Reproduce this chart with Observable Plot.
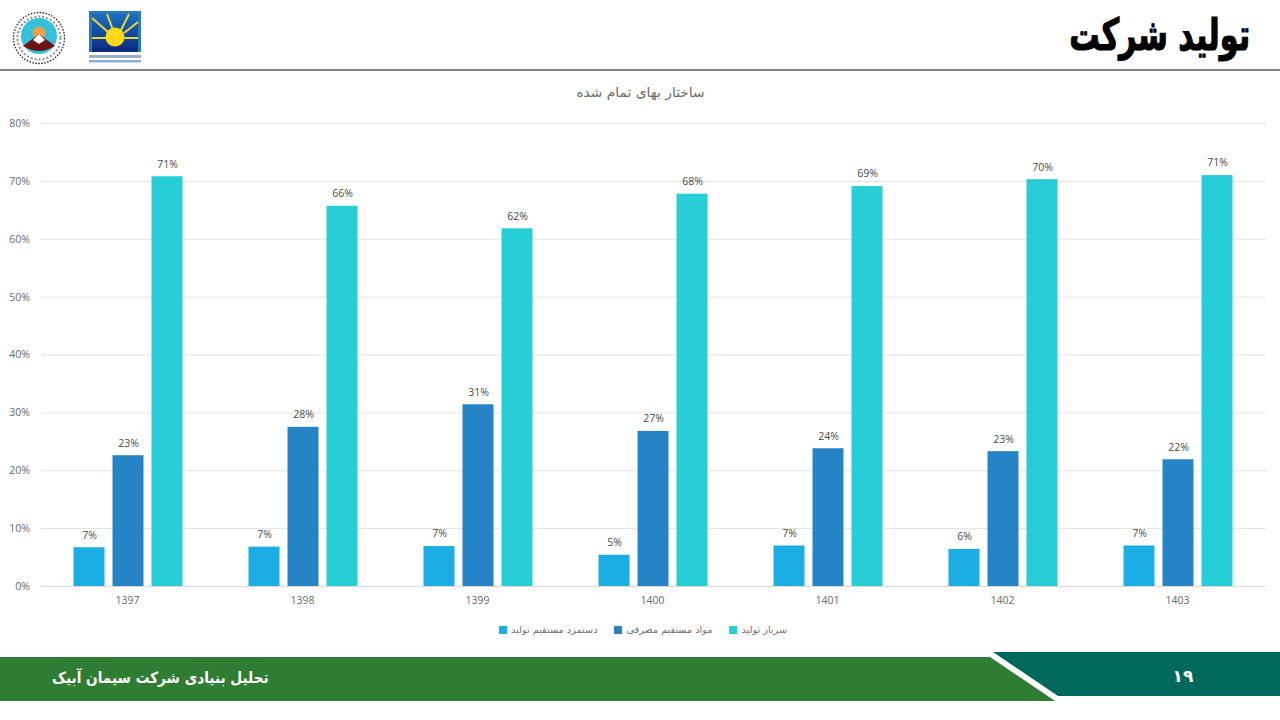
<!DOCTYPE html>
<html lang="fa">
<head>
<meta charset="utf-8">
<script src="https://cdn.jsdelivr.net/npm/d3@7"></script>
<script src="https://cdn.jsdelivr.net/npm/@observablehq/plot@0.6"></script>
<style>
html,body{margin:0;padding:0;background:#fff;width:1280px;height:720px;overflow:hidden;font-family:"DejaVu Sans","Noto Sans",sans-serif}
.abs{position:absolute}
#page{position:relative;width:1280px;height:720px}
#headline{right:30px;top:9px;font:bold 44px "DejaVu Sans";color:#000;direction:rtl;white-space:nowrap;transform:scaleX(.69);transform-origin:right center;-webkit-text-stroke:1.2px #000}
#rule{left:0;top:69px;width:1280px;height:2px;background:#808080}
#chartTitle{left:0;width:1281px;top:84px;text-align:center;font:13.8px "DejaVu Sans";color:#6e6e6e;direction:rtl}
#plot{left:0;top:100px}
#legend{left:0;width:1286px;top:624px;display:flex;justify-content:center;gap:17px;font:9.7px "DejaVu Sans";color:#6e6e6e}
#legend span.item{display:flex;align-items:center;gap:4px}
#legend i{display:block;width:8px;height:8px}
#footLeft{left:52px;top:669px;font:bold 15.5px "DejaVu Sans";color:#fff;direction:rtl;white-space:nowrap;transform:scaleX(.88);transform-origin:left center}
#footNum{left:1160px;width:46px;text-align:center;top:666px;font:bold 17px "DejaVu Sans";color:#fff;letter-spacing:4px}
svg.deco{position:absolute;left:0;top:0;pointer-events:none}
</style>
</head>
<body>
<div id="page">
<svg class="deco" width="1280" height="720" viewBox="0 0 1280 720" aria-hidden="true">
  <defs>
    <linearGradient id="navy" x1="0" y1="0" x2="0" y2="1">
      <stop offset="0" stop-color="#1a6fc0"/><stop offset="1" stop-color="#0c2a80"/>
    </linearGradient>
  </defs>
  <polygon points="0,657 990,657 1055,701 0,701" fill="#2e7d32"/>
  <polygon points="993,652 1280,652 1280,696 1058,696" fill="#00695c"/>
  <circle cx="39" cy="38" r="25.5" fill="#fff" stroke="#222" stroke-width="1.3" stroke-dasharray="1.5 1.5"/>
  <circle cx="39" cy="38" r="21.5" fill="none" stroke="#444" stroke-width="2" stroke-dasharray="2 2" opacity=".6"/>
  <circle cx="39" cy="36" r="18" fill="#35c0dc"/>
  <circle cx="39" cy="33" r="6.5" fill="#e9a14a"/>
  <path d="M23,46 L39,34 L55,46 Q39,56 23,46Z" fill="#6b1414"/>
  <path d="M33,40 L39,34 L45,40 L39,44Z" fill="#fff"/>
  <rect x="89" y="11" width="52" height="41" fill="#2a7ab8"/>
  <rect x="92" y="14" width="46" height="38" fill="url(#navy)"/>
  <path d="M92,18 L108,32 M107,14 L113,30 M129,14 L121,30 M138,22 L124,33 M92,38 H138" stroke="#f0d33a" stroke-width="2" fill="none"/>
  <circle cx="115" cy="37" r="9.5" fill="#ffd91a"/>
  <rect x="92" y="48" width="46" height="4" fill="#0c2a80"/>
  <rect x="89" y="55" width="52" height="3" fill="#3a5a9a" opacity=".5"/>
  <rect x="89" y="60" width="52" height="2.5" fill="#3a7ab8" opacity=".6"/>
</svg>
<div id="headline" class="abs">تولید شرکت</div>
<div id="rule" class="abs"></div>
<div id="chartTitle" class="abs">ساختار بهای تمام شده</div>
<div id="plot" class="abs"></div>
<div id="legend" class="abs"></div>
<div id="footLeft" class="abs">تحلیل بنیادی شرکت سیمان آبیک</div>
<div id="footNum" class="abs">۱۹</div>
</div>
<script>
const years = ["1397","1398","1399","1400","1401","1402","1403"];
const seriesNames = ["دستمزد مستقیم تولید","مواد مستقیم مصرفی","سربار تولید"];
const seriesColors = ["#1cade4","#2683c6","#27ced7"];
const labor = [6.7,6.8,6.9,5.4,7.0,6.4,7.0];
const materials = [22.6,27.5,31.4,26.8,23.8,23.3,21.9];
const overhead = [70.8,65.7,61.8,67.8,69.1,70.3,71.0];
const yTicks = [0,10,20,30,40,50,60,70,80];

const rows = [labor,materials,overhead].flatMap((vals,i)=>
  vals.map((v,j)=>({year:years[j],series:seriesNames[i],value:v})));

const font = '"Open Sans","Noto Sans",sans-serif';
const chart = Plot.plot({
  width:1280, height:520,
  marginTop:23, marginBottom:34, marginLeft:40.5, marginRight:14.5,
  style:{fontFamily:font,fontSize:"10.5px",color:"#6a6a6a",background:"transparent"},
  fx:{domain:years,padding:0,label:null,axis:null},
  x:{domain:seriesNames,axis:null,paddingInner:0.205,paddingOuter:0.846},
  y:{domain:[0,80],ticks:yTicks,label:null,axis:null},
  color:{domain:seriesNames,range:seriesColors},
  marks:[
    Plot.gridY(yTicks,{stroke:"#e2e2e2",strokeOpacity:1,strokeWidth:1}),
    Plot.ruleY([0],{stroke:"#d9d9d9",strokeWidth:1}),
    Plot.axisY({ticks:yTicks,tickSize:0,tickPadding:11.5,label:null,tickFormat:d=>d+"%",fill:"#6a6a6a"}),
    Plot.axisFx({anchor:"bottom",tickSize:0,tickPadding:10,label:null,dx:-1.5,fill:"#6a6a6a"}),
    Plot.barY(rows,{fx:"year",x:"series",y:"value",fill:"series"}),
    Plot.text(rows,{fx:"year",x:"series",y:"value",text:d=>Math.round(d.value)+"%",dy:-12.5,fill:"#4a4a4a",fontSize:10.5})
  ]
});
document.getElementById("plot").appendChild(chart);

const legend = document.getElementById("legend");
seriesNames.forEach((name,i)=>{
  const item = document.createElement("span");
  item.className = "item";
  const sw = document.createElement("i");
  sw.style.background = seriesColors[i];
  const t = document.createElement("span");
  t.textContent = name;
  t.style.direction = "rtl";
  item.append(sw,t);
  legend.append(item);
});
</script>
</body>
</html>
